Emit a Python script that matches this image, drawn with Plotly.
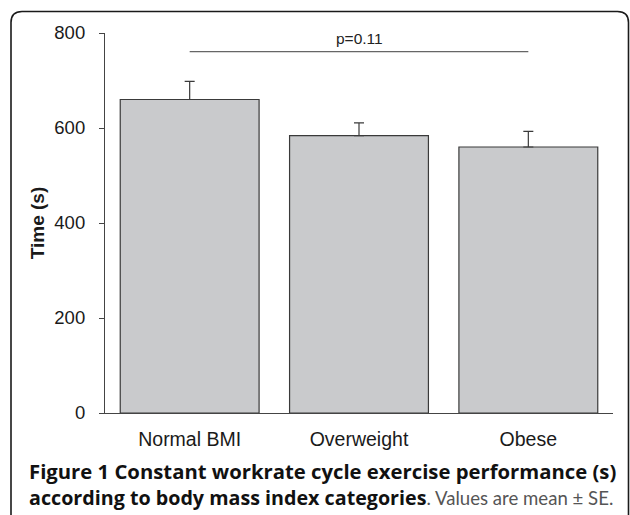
import plotly.graph_objects as go

categories = ["Normal BMI", "Overweight", "Obese"]
mean_time = [660, 584, 560]
se_time = [38, 27, 33]
y_ticks = [0, 200, 400, 600, 800]
p_label = "p=0.11"
p_line_value = 761
p_text_value = 788
p_pair = [0, 2]

W, H = 630, 515
L, R, T, B = 105, 17, 33, 102
pw, ph = W - L - R, H - T - B

def px(x):
    return (x - L) / pw

def py(y):
    return (H - B - y) / ph

fig = go.Figure()
fig.add_trace(go.Bar(
    x=list(range(len(categories))), y=mean_time,
    width=0.82,
    marker=dict(color="#c9cacc", line=dict(color="#3a3a3a", width=1.2)),
    error_y=dict(type="data", array=se_time, arrayminus=[0]*len(se_time),
                 symmetric=False, color="#3a3a3a", thickness=1.2, width=5),
    showlegend=False, hoverinfo="skip",
))

# significance line
fig.add_shape(type="line", xref="x", yref="y", x0=p_pair[0], x1=p_pair[1],
              y0=p_line_value, y1=p_line_value, line=dict(color="#666666", width=1.2))
fig.add_annotation(x=(p_pair[0]+p_pair[1])/2, y=p_text_value, xref="x", yref="y",
                   text=p_label, showarrow=False,
                   font=dict(family="Liberation Sans", size=15.5, color="#222222"))

# frame border (rounded top corners, open bottom)
r = 11
x0b, x1b, ytop, ybot = 11, 628.5, 11.5, 530
path = (f"M {px(x0b)},{py(ybot)} L {px(x0b)},{py(ytop + r)} "
        f"Q {px(x0b)},{py(ytop)} {px(x0b + r)},{py(ytop)} "
        f"L {px(x1b - r)},{py(ytop)} Q {px(x1b)},{py(ytop)} {px(x1b)},{py(ytop + r)} "
        f"L {px(x1b)},{py(ybot)}")
fig.add_shape(type="path", xref="paper", yref="paper", path=path,
              line=dict(color="#1a1a1a", width=1.6))

# caption
cap1 = "<b>Figure 1 Constant workrate cycle exercise performance (s)</b>"
cap2 = ("<b>according to body mass index categories</b>"
        "<span style='color:#555555;font-family:Lato;font-size:18.6px'>. Values are mean ± SE.</span>")
fig.add_annotation(xref="paper", yref="paper", x=px(27), y=py(471), xanchor="left",
                   yanchor="middle", text=cap1, showarrow=False,
                   font=dict(family="Open Sans", size=20.3, color="#111111"))
fig.add_annotation(xref="paper", yref="paper", x=px(27), y=py(497), xanchor="left",
                   yanchor="middle", text=cap2, showarrow=False,
                   font=dict(family="Open Sans", size=19.7, color="#111111"))

fig.update_layout(
    width=W, height=H,
    margin=dict(l=L, r=R, t=T, b=B),
    paper_bgcolor="white", plot_bgcolor="white",
    font=dict(family="Liberation Sans", size=19, color="#1a1a1a"),
    bargap=0.18,
)
fig.update_xaxes(
    range=[-0.5, 2.5], tickvals=list(range(len(categories))), ticktext=categories,
    showline=True, linecolor="#444444", linewidth=1.2, ticks="",
    showgrid=False, zeroline=False, ticklabelstandoff=8,
    tickfont=dict(family="Liberation Sans", size=19.5, color="#1a1a1a"),
)
fig.update_yaxes(
    range=[0, 800], tickvals=y_ticks, showline=True, linecolor="#444444", linewidth=1.2,
    ticks="outside", ticklen=5, tickcolor="#444444", tickwidth=1.2,
    showgrid=False, zeroline=False, ticklabelstandoff=10,
    tickfont=dict(family="Liberation Sans", size=18.5, color="#1a1a1a"),
    title=dict(text="<b>Time (s)</b>", standoff=4,
               font=dict(family="Liberation Sans", size=19, color="#1a1a1a")),
)

fig.write_html("out.html", config={"displayModeBar": False},
               post_script="document.body.style.margin='0';document.body.style.overflow='hidden';")
